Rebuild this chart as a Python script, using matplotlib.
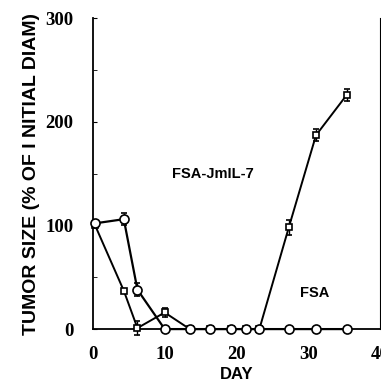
import matplotlib.pyplot as plt
from matplotlib.ticker import MultipleLocator

# Data
days = [0.3, 4.3, 6.2, 10.0, 13.5, 16.3, 19.2, 21.4, 23.2, 27.3, 31.1, 35.4]
sq_vals = [100, 37, 1, 16, 0, 0, 0, 0, 0, 98, 187, 226]
sq_err = [0, 0, 7, 4, 0, 0, 0, 0, 0, 7, 6, 6]
circ_vals = [102, 106, 38, 0, 0, 0, 0, 0, 0, 0, 0, 0]
circ_err = [0, 6, 6, 0, 0, 0, 0, 0, 0, 0, 0, 0]

x_ticks = [0, 10, 20, 30, 40]
y_ticks = [0, 100, 200, 300]

fig = plt.figure(figsize=(3.81, 3.84), dpi=100)
ax = fig.add_axes([0.244, 0.143, 0.753, 0.81])

ax.errorbar(days, sq_vals, yerr=sq_err, color="black", lw=1.4, marker="s",
            ms=4.5, mfc="white", mec="black", mew=1.2, capsize=2, elinewidth=1,
            clip_on=False, zorder=3)
ax.errorbar(days, circ_vals, yerr=circ_err, color="black", lw=1.6, marker="o",
            ms=6.5, mfc="white", mec="black", mew=1.2, capsize=2, elinewidth=1,
            clip_on=False, zorder=3)

ax.text(16.7, 150, "FSA-JmIL-7", ha="center", va="center", fontsize=10.5,
        fontweight="bold", family="Liberation Sans")
ax.text(30.9, 35, "FSA", ha="center", va="center", fontsize=10.5,
        fontweight="bold", family="Liberation Sans")

ax.set_xlim(0, 40)
ax.set_ylim(0, 300)
ax.set_xticks(x_ticks, [str(v) for v in x_ticks])
ax.set_yticks(y_ticks, [str(v) for v in y_ticks])
ax.yaxis.set_minor_locator(MultipleLocator(50))
ax.tick_params(axis="both", which="both", direction="in", length=3)
ax.tick_params(axis="y", which="major", pad=14)
ax.tick_params(axis="x", length=0, pad=12)
for lab in ax.get_xticklabels() + ax.get_yticklabels():
    lab.set_family("Liberation Serif")
    lab.set_fontweight("bold")
    lab.set_fontsize(13.5)

ax.spines["top"].set_visible(False)
ax.spines["left"].set_linewidth(1.3)
ax.spines["bottom"].set_linewidth(1.3)
ax.spines["right"].set_linewidth(0.8)

ax.set_xlabel("DAY", fontsize=12, fontweight="bold", family="Liberation Sans",
              labelpad=3)
ax.set_ylabel("TUMOR SIZE (% OF I NITIAL DIAM)", fontsize=14, fontweight="bold",
              family="Liberation Sans", labelpad=4)

fig.savefig("out.png", dpi=100)
